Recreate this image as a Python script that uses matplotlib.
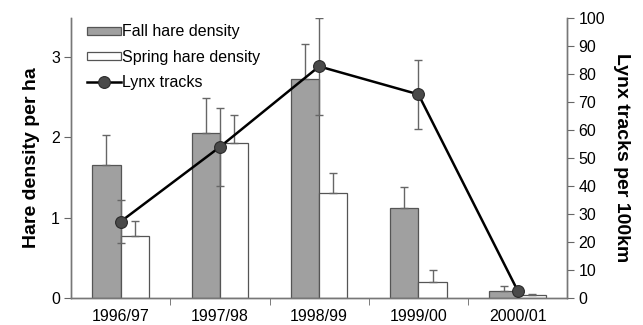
import matplotlib
matplotlib.use("Agg")
import matplotlib.pyplot as plt
import numpy as np

plt.rcParams['font.family'] = ['Liberation Sans', 'DejaVu Sans']

seasons = ["1996/97", "1997/98", "1998/99", "1999/00", "2000/01"]
fall_density = [1.65, 2.06, 2.73, 1.12, 0.08]
fall_err = [0.38, 0.43, 0.44, 0.26, 0.07]
spring_density = [0.77, 1.93, 1.31, 0.20, 0.03]
spring_err = [0.19, 0.35, 0.25, 0.15, 0.02]
lynx_tracks = [27.2, 53.9, 82.7, 72.7, 2.5]
lynx_err = [7.7, 13.8, 17.4, 12.4, 0.0]

fig = plt.figure(figsize=(6.43, 3.25), dpi=100)
ax = fig.add_axes([0.1104, 0.084, 0.7719, 0.8606])
ax2 = ax.twinx()

x = np.arange(len(seasons))
w = 0.285
ecol = '#666666'
ax.bar(x - w/2, fall_density, w, color='#a0a0a0', edgecolor='#555555', linewidth=0.9,
       yerr=[np.zeros(len(x)), fall_err], error_kw=dict(ecolor=ecol, elinewidth=1, capsize=3, capthick=1),
       label='Fall hare density', zorder=2)
ax.bar(x + w/2, spring_density, w, color='white', edgecolor='#555555', linewidth=0.9,
       yerr=[np.zeros(len(x)), spring_err], error_kw=dict(ecolor=ecol, elinewidth=1, capsize=3, capthick=1),
       label='Spring hare density', zorder=2)

ax2.errorbar(x, lynx_tracks, yerr=lynx_err, fmt='none', ecolor=ecol, elinewidth=1, capsize=3, capthick=1, zorder=3)
ax2.plot(x, lynx_tracks, color='black', linewidth=1.8, marker='o', markersize=8.5,
         markerfacecolor='#4a4a4a', markeredgecolor='#2a2a2a', markeredgewidth=0.8,
         label='Lynx tracks', zorder=4)

ax.set_xlim(-0.5, len(x) - 0.5)
ax.set_ylim(0, 3.49)
ax2.set_ylim(0, 100)

ax.set_yticks([0, 1, 2, 3])
ax2.set_yticks(np.arange(0, 101, 10))
ax.set_xticks(x)
ax.set_xticklabels(seasons)
ax.set_xticks(np.arange(0.5, len(x) - 0.5, 1), minor=True)
ax.tick_params(axis='x', which='major', length=0, labelsize=11.5, pad=8)
ax.tick_params(axis='x', which='minor', length=5, color='#666666', direction='out')
ax.tick_params(axis='y', length=5, color='#666666', labelsize=11.5, pad=3)
ax2.tick_params(axis='y', length=5, color='#666666', labelsize=11.5, pad=3)

for a in (ax, ax2):
    a.spines['top'].set_visible(False)
    for s in ('left', 'right', 'bottom'):
        a.spines[s].set_color('#777777')
        a.spines[s].set_linewidth(1.0)

ax.set_ylabel('Hare density per ha', fontsize=14, fontweight='bold', labelpad=8)
ax2.set_ylabel('Lynx tracks per 100km', fontsize=14, fontweight='bold', rotation=270, labelpad=18)

h1, l1 = ax.get_legend_handles_labels()
h2, l2 = ax2.get_legend_handles_labels()
leg = ax2.legend(h1 + h2, l1 + l2, loc='upper left', bbox_to_anchor=(0.02, 1.0), frameon=False,
                 fontsize=11.5, handlelength=2.1, handleheight=0.4, handletextpad=0.1,
                 labelspacing=0.65, borderaxespad=0)

fig.savefig('out.png', dpi=100)
